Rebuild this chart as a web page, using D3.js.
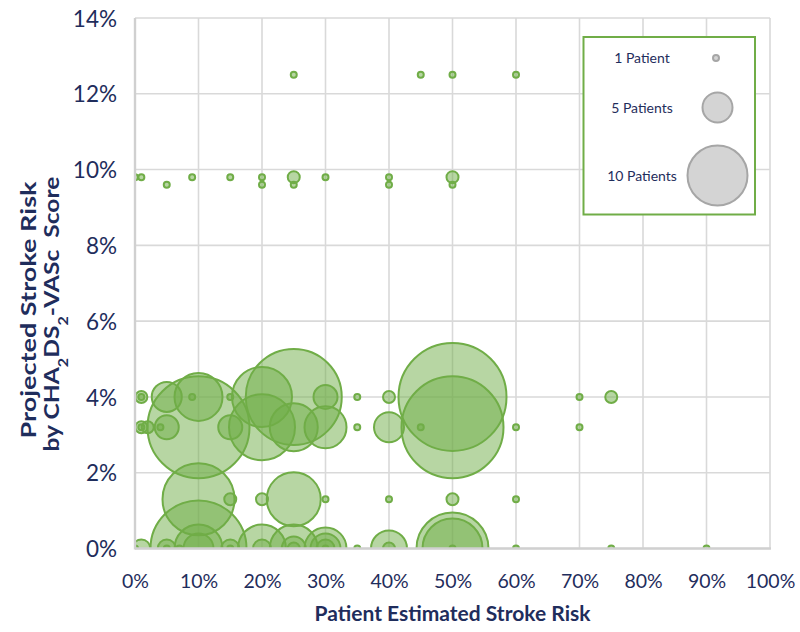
<!DOCTYPE html>
<html>
<head>
<meta charset="utf-8">
<script src="https://cdn.jsdelivr.net/npm/d3@7"></script>
<style>
  html, body { margin: 0; padding: 0; background: #ffffff; }
  svg { display: block; }
  text { font-family: Lato, "Open Sans", sans-serif; fill: #1F2D5C; }
</style>
</head>
<body>
<svg id="chart" width="800" height="632"></svg>
<script>
// ---- data ----
// Patient estimated stroke risk (%), projected risk by CHA2DS2-VASc (%), number of patients
const estRisk = [
  25, 45, 50, 60,
  0, 1, 9, 15, 20, 25, 30, 40, 50,
  5, 20, 25, 40, 50,
  1, 1, 5, 9, 10, 15, 20, 25, 30, 35, 40, 50, 70, 75,
  1, 1, 2, 4, 5, 10, 15, 20, 25, 30, 35, 40, 45, 50, 60, 70,
  10, 15, 20, 25, 30, 40, 50, 60,
  0, 1, 5, 5, 7, 10, 10, 10, 15, 15, 20, 20, 25, 25, 25, 30, 30, 30, 30, 35, 40, 40, 50, 50, 50, 60, 75, 90
];
const projRisk = [
  12.5, 12.5, 12.5, 12.5,
  9.8, 9.8, 9.8, 9.8, 9.8, 9.8, 9.8, 9.8, 9.8,
  9.6, 9.6, 9.6, 9.6, 9.6,
  4.0, 4.0, 4.0, 4.0, 4.0, 4.0, 4.0, 4.0, 4.0, 4.0, 4.0, 4.0, 4.0, 4.0,
  3.2, 3.2, 3.2, 3.2, 3.2, 3.2, 3.2, 3.2, 3.2, 3.2, 3.2, 3.2, 3.2, 3.2, 3.2, 3.2,
  1.3, 1.3, 1.3, 1.3, 1.3, 1.3, 1.3, 1.3,
  0, 0, 0, 0, 0, 0, 0, 0, 0, 0, 0, 0, 0, 0, 0, 0, 0, 0, 0, 0, 0, 0, 0, 0, 0, 0, 0, 0
];
const patients = [
  1, 1, 1, 1,
  1, 1, 1, 1, 1, 2, 1, 1, 2,
  1, 1, 1, 1, 1,
  2, 1, 5, 1, 8, 1, 10, 16, 4, 1, 2, 18, 1, 2,
  2, 1, 2, 1, 4, 17, 4, 11, 8, 7, 1, 5, 1, 17, 1, 1,
  12, 2, 2, 9, 1, 1, 2, 1,
  1, 3, 3, 1, 1, 16, 8, 5, 3, 1, 8, 3, 8, 4, 2, 7, 5, 3, 1, 1, 6, 2, 12, 10, 1, 1, 1, 1
];
const xTicks = [0, 10, 20, 30, 40, 50, 60, 70, 80, 90, 100];
const yTicks = [0, 2, 4, 6, 8, 10, 12, 14];
const legendCounts = [1, 5, 10];
const legendLabels = ["1 Patient", "5 Patients", "10 Patients"];
const xTitle = "Patient Estimated Stroke Risk";
const yTitle1 = "Projected Stroke Risk";

// ---- layout ----
const svg = d3.select("#chart");
const x = d3.scaleLinear().domain([0, 100]).range([135, 770]);
const y = d3.scaleLinear().domain([0, 14]).range([548.5, 18]);
const r = d3.scaleLinear().domain([0, 18]).range([0, 54]);
const GREEN = "#70AD47";

// gridlines
const grid = svg.append("g");
grid.selectAll("line.v").data(xTicks).join("line")
  .attr("x1", d => x(d)).attr("x2", d => x(d))
  .attr("y1", y(14)).attr("y2", y(0))
  .attr("stroke", "#d9d9d9").attr("stroke-width", 1.6);
grid.selectAll("line.h").data(yTicks).join("line")
  .attr("x1", x(0)).attr("x2", x(100))
  .attr("y1", d => y(d)).attr("y2", d => y(d))
  .attr("stroke", "#d9d9d9").attr("stroke-width", 1.6);

// bubbles
svg.append("clipPath").attr("id", "plotclip").append("rect")
  .attr("x", x(0)).attr("y", y(14)).attr("width", x(100) - x(0)).attr("height", y(0) - y(14));

const data = estRisk.map((d, i) => ({ ex: d, pr: projRisk[i], n: patients[i] }))
  .sort((a, b) => b.n - a.n);

svg.append("g").attr("clip-path", "url(#plotclip)")
  .selectAll("circle").data(data).join("circle")
  .attr("cx", d => x(d.ex)).attr("cy", d => y(d.pr)).attr("r", d => r(d.n))
  .attr("fill", GREEN).attr("fill-opacity", 0.5)
  .attr("stroke", GREEN).attr("stroke-width", 2);

// axes lines (left & bottom)
svg.append("line").attr("x1", x(0)).attr("x2", x(0)).attr("y1", y(14)).attr("y2", y(0) + 1)
  .attr("stroke", "#d0d0d0").attr("stroke-width", 2.4);
svg.append("line").attr("x1", x(0)).attr("x2", x(100) + 1).attr("y1", y(0)).attr("y2", y(0))
  .attr("stroke", "#d0d0d0").attr("stroke-width", 2.4);

// tick labels via d3 axes
const xAxis = d3.axisBottom(x).tickValues(xTicks).tickFormat(d => d + "%").tickSize(0).tickPadding(0);
const gx = svg.append("g").attr("transform", `translate(0, ${y(0)})`).call(xAxis);
gx.select(".domain").remove();
gx.selectAll("text").attr("dy", null).attr("y", 39)
  .style("font-size", "19.5px").style("fill", "#1F2D5C");

const yAxis = d3.axisLeft(y).tickValues(yTicks).tickFormat(d => d + "%").tickSize(0).tickPadding(0);
const gy = svg.append("g").attr("transform", `translate(${x(0) - 18}, 0)`).call(yAxis);
gy.select(".domain").remove();
gy.selectAll("text").attr("dy", "0.36em").attr("x", 0)
  .style("font-size", "22.5px").style("fill", "#1F2D5C");

// axis titles
svg.append("text").attr("x", (x(0) + x(100)) / 2).attr("y", 621)
  .attr("text-anchor", "middle").style("font-size", "21px").style("font-weight", "bold")
  .text(xTitle);

svg.append("text").attr("transform", "translate(36,310) rotate(-90)")
  .attr("text-anchor", "middle").style("font-size", "21.5px").style("font-weight", "bold")
  .attr("textLength", 257).attr("lengthAdjust", "spacingAndGlyphs")
  .text(yTitle1);

const yt2 = svg.append("text").attr("transform", "translate(59,314) rotate(-90)")
  .attr("text-anchor", "middle").style("font-size", "21.5px").style("font-weight", "bold")
  .attr("textLength", 275).attr("lengthAdjust", "spacingAndGlyphs");
yt2.append("tspan").text("by CHA");
yt2.append("tspan").attr("baseline-shift", "sub").style("font-size", "14px").text("2");
yt2.append("tspan").text("DS");
yt2.append("tspan").attr("baseline-shift", "sub").style("font-size", "14px").text("2");
yt2.append("tspan").text("-VASc\u00A0\u00A0Score");

// legend
const lg = svg.append("g");
lg.append("rect").attr("x", 583.5).attr("y", 37).attr("width", 171.5).attr("height", 177.5)
  .attr("fill", "#ffffff").attr("stroke", GREEN).attr("stroke-width", 2);
const legY = [58, 107.5, 175.5];
lg.selectAll("circle").data(legendCounts).join("circle")
  .attr("cx", (d, i) => i === 0 ? 716 : 717.5).attr("cy", (d, i) => legY[i]).attr("r", d => r(d))
  .attr("fill", "#d4d4d4").attr("stroke", "#a6a6a6").attr("stroke-width", 2);
lg.selectAll("text").data(legendLabels).join("text")
  .attr("x", 642).attr("y", (d, i) => legY[i] + 5)
  .attr("text-anchor", "middle").style("font-size", "14px")
  .text(d => d);
</script>
</body>
</html>
